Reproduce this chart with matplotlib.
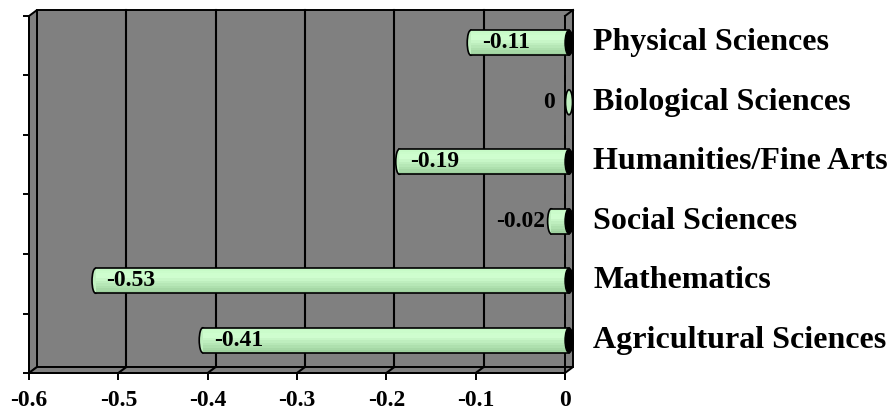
"""Excel-style 3D horizontal cylinder bar chart, redrawn with matplotlib."""
import matplotlib
matplotlib.use("Agg")
import matplotlib.pyplot as plt
import matplotlib.patches as mpatches
import numpy as np

categories = ["Agricultural Sciences", "Mathematics", "Social Sciences",
              "Humanities/Fine Arts", "Biological Sciences", "Physical Sciences"]
values = [-0.41, -0.53, -0.02, -0.19, 0.0, -0.11]
value_labels = ["-0.41", "-0.53", "-0.02", "-0.19", "0", "-0.11"]
xticks = [-0.6, -0.5, -0.4, -0.3, -0.2, -0.1, 0.0]
xtick_labels = ["-0.6", "-0.5", "-0.4", "-0.3", "-0.2", "-0.1", "0"]

plt.rcParams["font.family"] = ["Liberation Serif", "DejaVu Serif"]
plt.rcParams["font.weight"] = "bold"

W, H = 896, 411
fig = plt.figure(figsize=(W / 100, H / 100), dpi=100)
# front rectangle of the 3D box, in pixels
L, R, T, B = 29, 565, 16, 373
ax = fig.add_axes([L / W, (H - B) / H, (R - L) / W, (B - T) / H])
xmin, xmax = -0.6, 0.0
n = len(categories)
ax.set_xlim(xmin, xmax)
ax.set_ylim(0, n)

# pixel -> data conversions
px = (xmax - xmin) / (R - L)
py = n / (B - T)
dx, dy = 8 * px, 6 * py          # depth of the box
gray = "#808080"

# back wall, left side wall, floor
ax.add_patch(mpatches.Rectangle((xmin + dx, dy), xmax - xmin, n, facecolor=gray,
                                edgecolor="black", lw=1.4, clip_on=False, zorder=0))
ax.add_patch(mpatches.Polygon([(xmin, 0), (xmin, n), (xmin + dx, n + dy), (xmin + dx, dy)],
                              facecolor=gray, edgecolor="black", lw=1.4, clip_on=False, zorder=0))
ax.add_patch(mpatches.Polygon([(xmin, 0), (xmax, 0), (xmax + dx, dy), (xmin + dx, dy)],
                              facecolor=gray, edgecolor="black", lw=1.4, clip_on=False, zorder=0))
ax.plot([xmax, xmax + dx], [n, n + dy], color="black", lw=1.4, clip_on=False, zorder=0)

# gridlines on the back wall and the floor
for xv in xticks[1:-1]:
    ax.plot([xv + dx, xv + dx], [dy, n + dy], color="black", lw=1.5, clip_on=False, zorder=1)
    ax.plot([xv, xv + dx], [0, dy], color="black", lw=1.5, clip_on=False, zorder=1)

ax.set_facecolor("none")
ax.spines["top"].set_visible(False)
for s in ("left", "bottom", "right"):
    ax.spines[s].set_linewidth(1.4)
ax.set_xticks(xticks)
ax.set_xticklabels(xtick_labels)
ax.set_yticks(np.arange(n + 1))
ax.set_yticklabels([])
ax.tick_params(axis="x", direction="out", length=5, width=1.4, pad=7, labelsize=17)
ax.tick_params(axis="y", direction="out", length=4, width=1.4, right=True)
for t in ax.yaxis.get_major_ticks():
    t.tick2line.set_marker(3)  # right ticks pointing inward
    t.tick2line.set_markersize(5)

# cylinders, at half depth
bh = 25 * py
ys = np.arange(n) + 0.5 + dy / 2
ox = dx / 2
top_c = np.array([0.78, 0.98, 0.78])
mid_c = np.array([0.82, 1.0, 0.82])
bot_c = np.array([0.62, 0.82, 0.62])
nstripe = 10
for v, y in zip(values, ys):
    # left end cap
    ax.add_patch(mpatches.Ellipse((v + ox, y), 7 * px, bh, facecolor="#c0f0c0",
                                  edgecolor="black", lw=1.2, clip_on=False, zorder=3))
for i in range(nstripe):
    f = i / (nstripe - 1)
    c = bot_c + (mid_c - bot_c) * (f / 0.7) if f < 0.7 else mid_c + (top_c - mid_c) * ((f - 0.7) / 0.3)
    ax.barh(ys - bh / 2 + i * bh / nstripe, values, height=bh / nstripe + 0.001,
            left=ox, align="edge", color=tuple(np.clip(c, 0, 1)), lw=0,
            clip_on=False, zorder=4)
for v, y in zip(values, ys):
    if v == 0:
        continue
    ax.plot([v + ox, ox], [y + bh / 2, y + bh / 2], color="black", lw=1.2, clip_on=False, zorder=5)
    ax.plot([v + ox, ox], [y - bh / 2, y - bh / 2], color="black", lw=1.2, clip_on=False, zorder=5)
    ax.add_patch(mpatches.Ellipse((ox, y), 8 * px, bh, facecolor="black",
                                  edgecolor="black", lw=1.0, clip_on=False, zorder=5))

# data labels
for v, y, lab in zip(values, ys, value_labels):
    if abs(v) > 0.05:
        ax.text(v + ox + 11 * px, y, lab, ha="left", va="center", fontsize=17,
                fontweight="bold", zorder=6, clip_on=False)
    else:
        gap = 14 if v == 0 else 6
        ax.text(v + ox - gap * px, y, lab, ha="right", va="center", fontsize=17,
                fontweight="bold", zorder=6, clip_on=False)

# category names on the right
for y, name in zip(ys, categories):
    ax.text(xmax + 28 * px, y, name, ha="left", va="center", fontsize=23,
            fontweight="bold", clip_on=False)

fig.savefig("out.png", dpi=100)
